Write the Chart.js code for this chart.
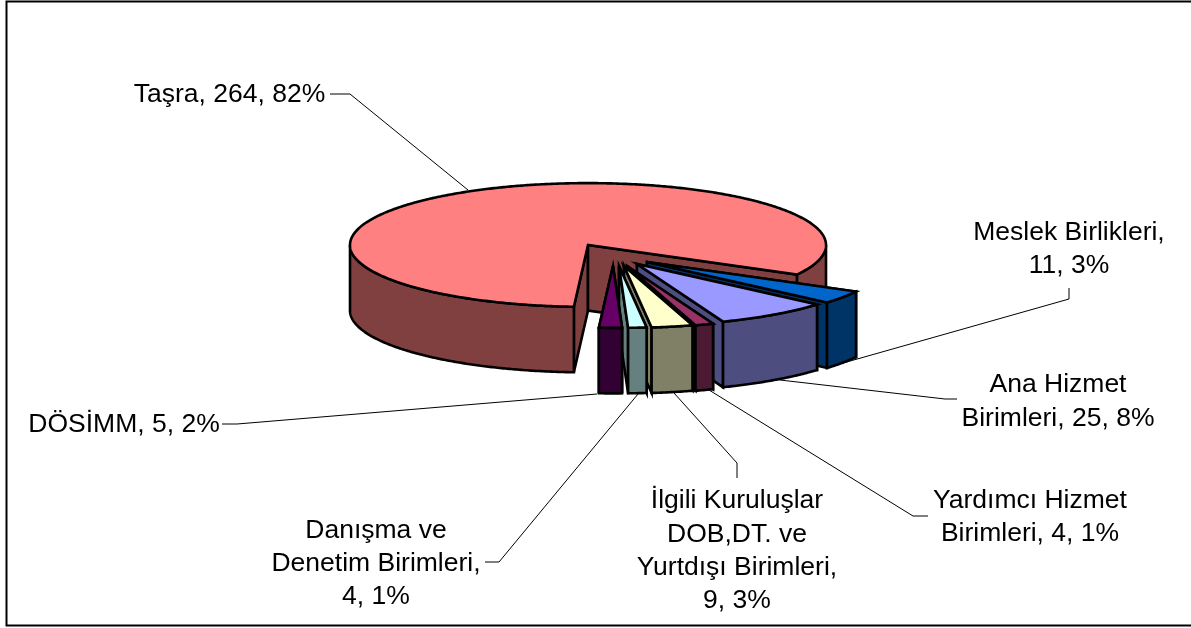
<!DOCTYPE html>
<html><head><meta charset="utf-8">
<style>html,body{margin:0;padding:0;background:#fff}canvas{display:block}</style>
<script src="https://cdn.jsdelivr.net/npm/chart.js@4"></script>
</head><body>
<canvas id="c" width="1191" height="628"></canvas>
<script>
// ---- data ----
const categories = ["Taşra","Meslek Birlikleri","Ana Hizmet Birimleri","Yardımcı Hizmet Birimleri","İlgili Kuruluşlar DOB,DT. ve Yurtdışı Birimleri","Danışma ve Denetim Birimleri","DÖSİMM"];
const values = [264,11,25,4,9,4,5];
const topColors = ["#FF8080","#0066CC","#9999FF","#993366","#FFFFCC","#CCFFFF","#660066"];
const wallColors = ["#804040","#003366","#4D4D80","#4D1A33","#808066","#668080","#330033"];
// ---- 3D look ----
const pieCenter = [588,245], pieRadius = 238, tilt = 0.26, depth = 65.5, firstAngle = 183.4;
const explodeX = [0,59,49,39,36,31,25];
const explodeY = [0,17,19,21,21,21,21];
const drawOrder = [0,1,2,3,4,5,6];
// ---- labels ----
const FONT = '26.5px "Liberation Sans", Arial, sans-serif';
const labelLines = [
 ["Taşra, 264, 82%"],
 ["Meslek Birlikleri,","11, 3%"],
 ["Ana Hizmet","Birimleri, 25, 8%"],
 ["Yardımcı Hizmet","Birimleri, 4, 1%"],
 ["İlgili Kuruluşlar","DOB,DT. ve","Yurtdışı Birimleri,","9, 3%"],
 ["Danışma ve","Denetim Birimleri,","4, 1%"],
 ["DÖSİMM, 5, 2%"]
];
const labelX = [229.5,1069,1058,1030,737,376,124];
const labelBaseline = [[102],[240,273],[392,426],[508,541],[508,542,575,608],[538,571,604],[432]];
const leaders = [
 [[330,94],[350,94],[468,190]],
 [[1069,288],[1069,299],[829,367]],
 [[957,399],[945,399],[780,380]],
 [[928,516],[913,516],[709,390]],
 [[737,478],[737,463],[674,393]],
 [[485,562],[499,562],[638,394]],
 [[222,424],[237,424],[597,394]]
];

const pie3d = {
  id:'pie3d',
  beforeDatasetDraw(chart,args){
    const ctx = chart.ctx, arcs = args.meta.data;
    const geom = i => {
      const el = arcs[i];
      return {el, cx:pieCenter[0]+explodeX[i], cy:pieCenter[1]+explodeY[i], r:pieRadius, a0:el.startAngle, a1:el.endAngle};
    };
    const P = (g,a,d) => [g.cx+g.r*Math.cos(a), g.cy+g.r*tilt*Math.sin(a)+d];
    const poly = (pts,fill,close) => {
      ctx.beginPath();
      pts.forEach((p,j)=> j?ctx.lineTo(p[0],p[1]):ctx.moveTo(p[0],p[1]));
      if(close) ctx.closePath();
      if(fill){ctx.fillStyle=fill;ctx.fill();}
      ctx.stroke();
    };
    const arcPts = (g,a,b,d) => {
      const n=Math.max(2,Math.ceil((b-a)/(Math.PI/360))), out=[];
      for(let j=0;j<=n;j++) out.push(P(g,a+(b-a)*j/n,d));
      return out;
    };
    ctx.save();
    ctx.strokeStyle='#000'; ctx.lineWidth=2.6; ctx.lineJoin='miter'; ctx.miterLimit=6;
    drawOrder.forEach(i=>{
      const g=geom(i), c=wallColors[i];
      const apex=[g.cx,g.cy];
      // cut faces: the side facing away first
      const face = a => { const e=P(g,a,0); return [apex,e,[e[0],e[1]+depth],[apex[0],apex[1]+depth]]; };
      const faces=[[g.a0,Math.sin(g.a0-Math.PI/2)],[g.a1,Math.sin(g.a1+Math.PI/2)]].sort((p,q)=>p[1]-q[1]);
      faces.forEach(f=>poly(face(f[0]),c,true));
      // outer wall, only where it faces the viewer
      for(let k=-1;k<=2;k++){
        const lo=Math.max(g.a0,2*Math.PI*k), hi=Math.min(g.a1,Math.PI+2*Math.PI*k);
        if(hi>lo){
          const top=arcPts(g,lo,hi,0), bot=arcPts(g,lo,hi,depth).reverse();
          poly(top.concat(bot),c,true);
        }
      }
      // top face, filled by the library's own arc element
      ctx.save();
      ctx.translate(g.cx,g.cy);
      const s=g.r/g.el.outerRadius;
      ctx.scale(s,s*tilt);
      ctx.translate(-g.el.x,-g.el.y);
      g.el.draw(ctx);
      ctx.restore();
      poly([apex].concat(arcPts(g,g.a0,g.a1,0)),null,true);
    });
    ctx.restore();
    return false;
  },
  afterDraw(chart){
    const ctx=chart.ctx;
    ctx.save();
    ctx.strokeStyle='#000'; ctx.lineWidth=1;
    leaders.forEach(l=>{
      ctx.beginPath();
      l.forEach((p,j)=> j?ctx.lineTo(p[0],p[1]):ctx.moveTo(p[0],p[1]));
      ctx.stroke();
    });
    ctx.font=FONT; ctx.fillStyle='#000'; ctx.textAlign='center'; ctx.textBaseline='alphabetic';
    labelLines.forEach((lines,i)=>lines.forEach((t,j)=>ctx.fillText(t,labelX[i],labelBaseline[i][j])));
    ctx.lineWidth=2;
    ctx.strokeRect(6.5,1.5,1190,624);
    ctx.restore();
  }
};

new Chart(document.getElementById('c'),{
  type:'pie',
  data:{labels:categories,datasets:[{data:values,backgroundColor:topColors,borderWidth:0,offset:0}]},
  options:{
    responsive:false,animation:false,rotation:firstAngle,radius:pieRadius,
    events:[],
    plugins:{legend:{display:false},tooltip:{enabled:false},title:{display:false}}
  },
  plugins:[pie3d]
});
</script>
</body></html>
